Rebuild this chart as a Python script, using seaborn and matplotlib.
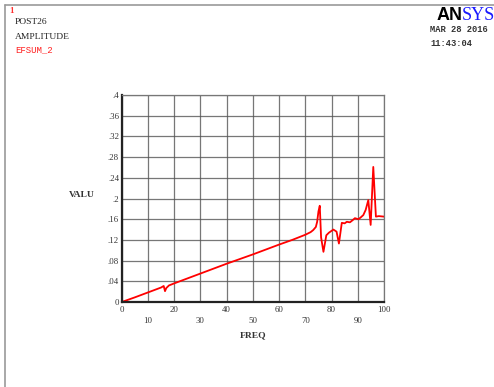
import numpy as np
import pandas as pd
import matplotlib
matplotlib.use("Agg")
import matplotlib.pyplot as plt
import seaborn as sns

# amplitude of EFSUM_2
freq = [0, 5, 10, 15, 16, 16.5, 17, 18, 20, 30, 40, 50, 60, 65, 68, 70,
        72, 73, 74, 74.5, 75, 75.5, 76, 76.9, 78, 79, 80.7, 81.9, 82.8,
        83.9, 85, 85.8, 87, 88, 88.9, 90.2, 91, 92.1, 93, 94, 94.9, 95.9,
        96.9, 98, 100]
valu = [0, 0.009, 0.0185, 0.028, 0.031, 0.021, 0.027, 0.032, 0.036, 0.055,
        0.074, 0.092, 0.111, 0.120, 0.126, 0.130, 0.135, 0.139, 0.145,
        0.155, 0.175, 0.186, 0.125, 0.097, 0.129, 0.134, 0.140, 0.136,
        0.113, 0.153, 0.152, 0.155, 0.154, 0.158, 0.162, 0.160, 0.163,
        0.168, 0.178, 0.197, 0.149, 0.261, 0.165, 0.166, 0.165]

x_major = [0, 20, 40, 60, 80, 100]
x_minor = [10, 30, 50, 70, 90]
y_ticks = [0, 0.04, 0.08, 0.12, 0.16, 0.2, 0.24, 0.28, 0.32, 0.36, 0.4]
y_labels = ['0', '.04', '.08', '.12', '.16', '.2', '.24', '.28', '.32', '.36', '.4']

df = pd.DataFrame({'FREQ': freq, 'VALU': valu})

sns.set_style("white")
serif = ['Liberation Serif', 'DejaVu Serif']
mono = ['Liberation Mono', 'DejaVu Sans Mono']
txt = '#333333'

fig = plt.figure(figsize=(4.94, 3.87), dpi=100)
ax = fig.add_axes([0.2464, 0.2196, 0.5310, 0.5349])

sns.lineplot(data=df, x='FREQ', y='VALU', ax=ax, color='#ff0000', lw=1.3)

ax.set_xlim(0, 100)
ax.set_ylim(0, 0.4)
ax.set_xticks(x_major + x_minor)
ax.set_xticklabels([])
ax.set_yticks(y_ticks)
ax.set_yticklabels(y_labels, fontsize=6.3, family=serif, color=txt)
ax.tick_params(axis='y', length=0, pad=2)
ax.tick_params(axis='x', length=0)
ax.grid(True, color='#555555', lw=0.9, alpha=0.8)
for s in ['top', 'right']:
    ax.spines[s].set_color('#777777')
    ax.spines[s].set_linewidth(0.9)
for s in ['left', 'bottom']:
    ax.spines[s].set_color('#222222')
    ax.spines[s].set_linewidth(1.6)
ax.set_xlabel('')
ax.set_ylabel('')

# staggered x labels, ANSYS style
for v in x_major:
    ax.text(v, -0.016, str(v), ha='center', va='center', fontsize=6.3,
            family=serif, color=txt)
for v in x_minor:
    ax.text(v, -0.036, str(v), ha='center', va='center', fontsize=6.3,
            family=serif, color=txt)

fig.text(253 / 494, 1 - 335 / 387, 'FREQ', ha='center', va='center', fontsize=6.8,
         family=serif, weight='bold', color=txt)
fig.text(82 / 494, 1 - 195 / 387, 'VALU', ha='center', va='center', fontsize=6.8,
         family=serif, weight='bold', color=txt)

# header texts
fig.text(9 / 494, 1 - 11 / 387, '1', fontsize=6.5, family=serif, weight='bold',
         color='#ff3030', va='center')
fig.text(15 / 494, 1 - 22 / 387, 'POST26', fontsize=6.8, family=serif, color='#222222', va='center')
fig.text(15 / 494, 1 - 37 / 387, 'AMPLITUDE', fontsize=6.8, family=serif, color='#222222', va='center')
fig.text(15 / 494, 1 - 50 / 387, 'EFSUM_2', fontsize=6.5, family=mono, color='#ff2020', va='center')

fig.text(437 / 494, 1 - 15 / 387, 'AN', fontsize=13, family=['Liberation Sans', 'DejaVu Sans'],
         weight='bold', color='black', va='center')
fig.text(462 / 494, 1 - 15 / 387, 'SYS', fontsize=13, family=serif, color='#1a1aff', va='center')
fig.text(430 / 494, 1 - 30 / 387, 'MAR 28 2016', fontsize=6.3, family=mono, weight='bold',
         color=txt, va='center')
fig.text(430 / 494, 1 - 43 / 387, '11:43:04', fontsize=6.3, family=mono, weight='bold',
         color=txt, va='center')

# window border
fig.add_artist(plt.Line2D([5 / 494, 1], [1 - 5 / 387] * 2, color='#999999', lw=1.2))
fig.add_artist(plt.Line2D([5 / 494] * 2, [0, 1 - 5 / 387], color='#999999', lw=1.2))

fig.savefig('out.png', dpi=100)
